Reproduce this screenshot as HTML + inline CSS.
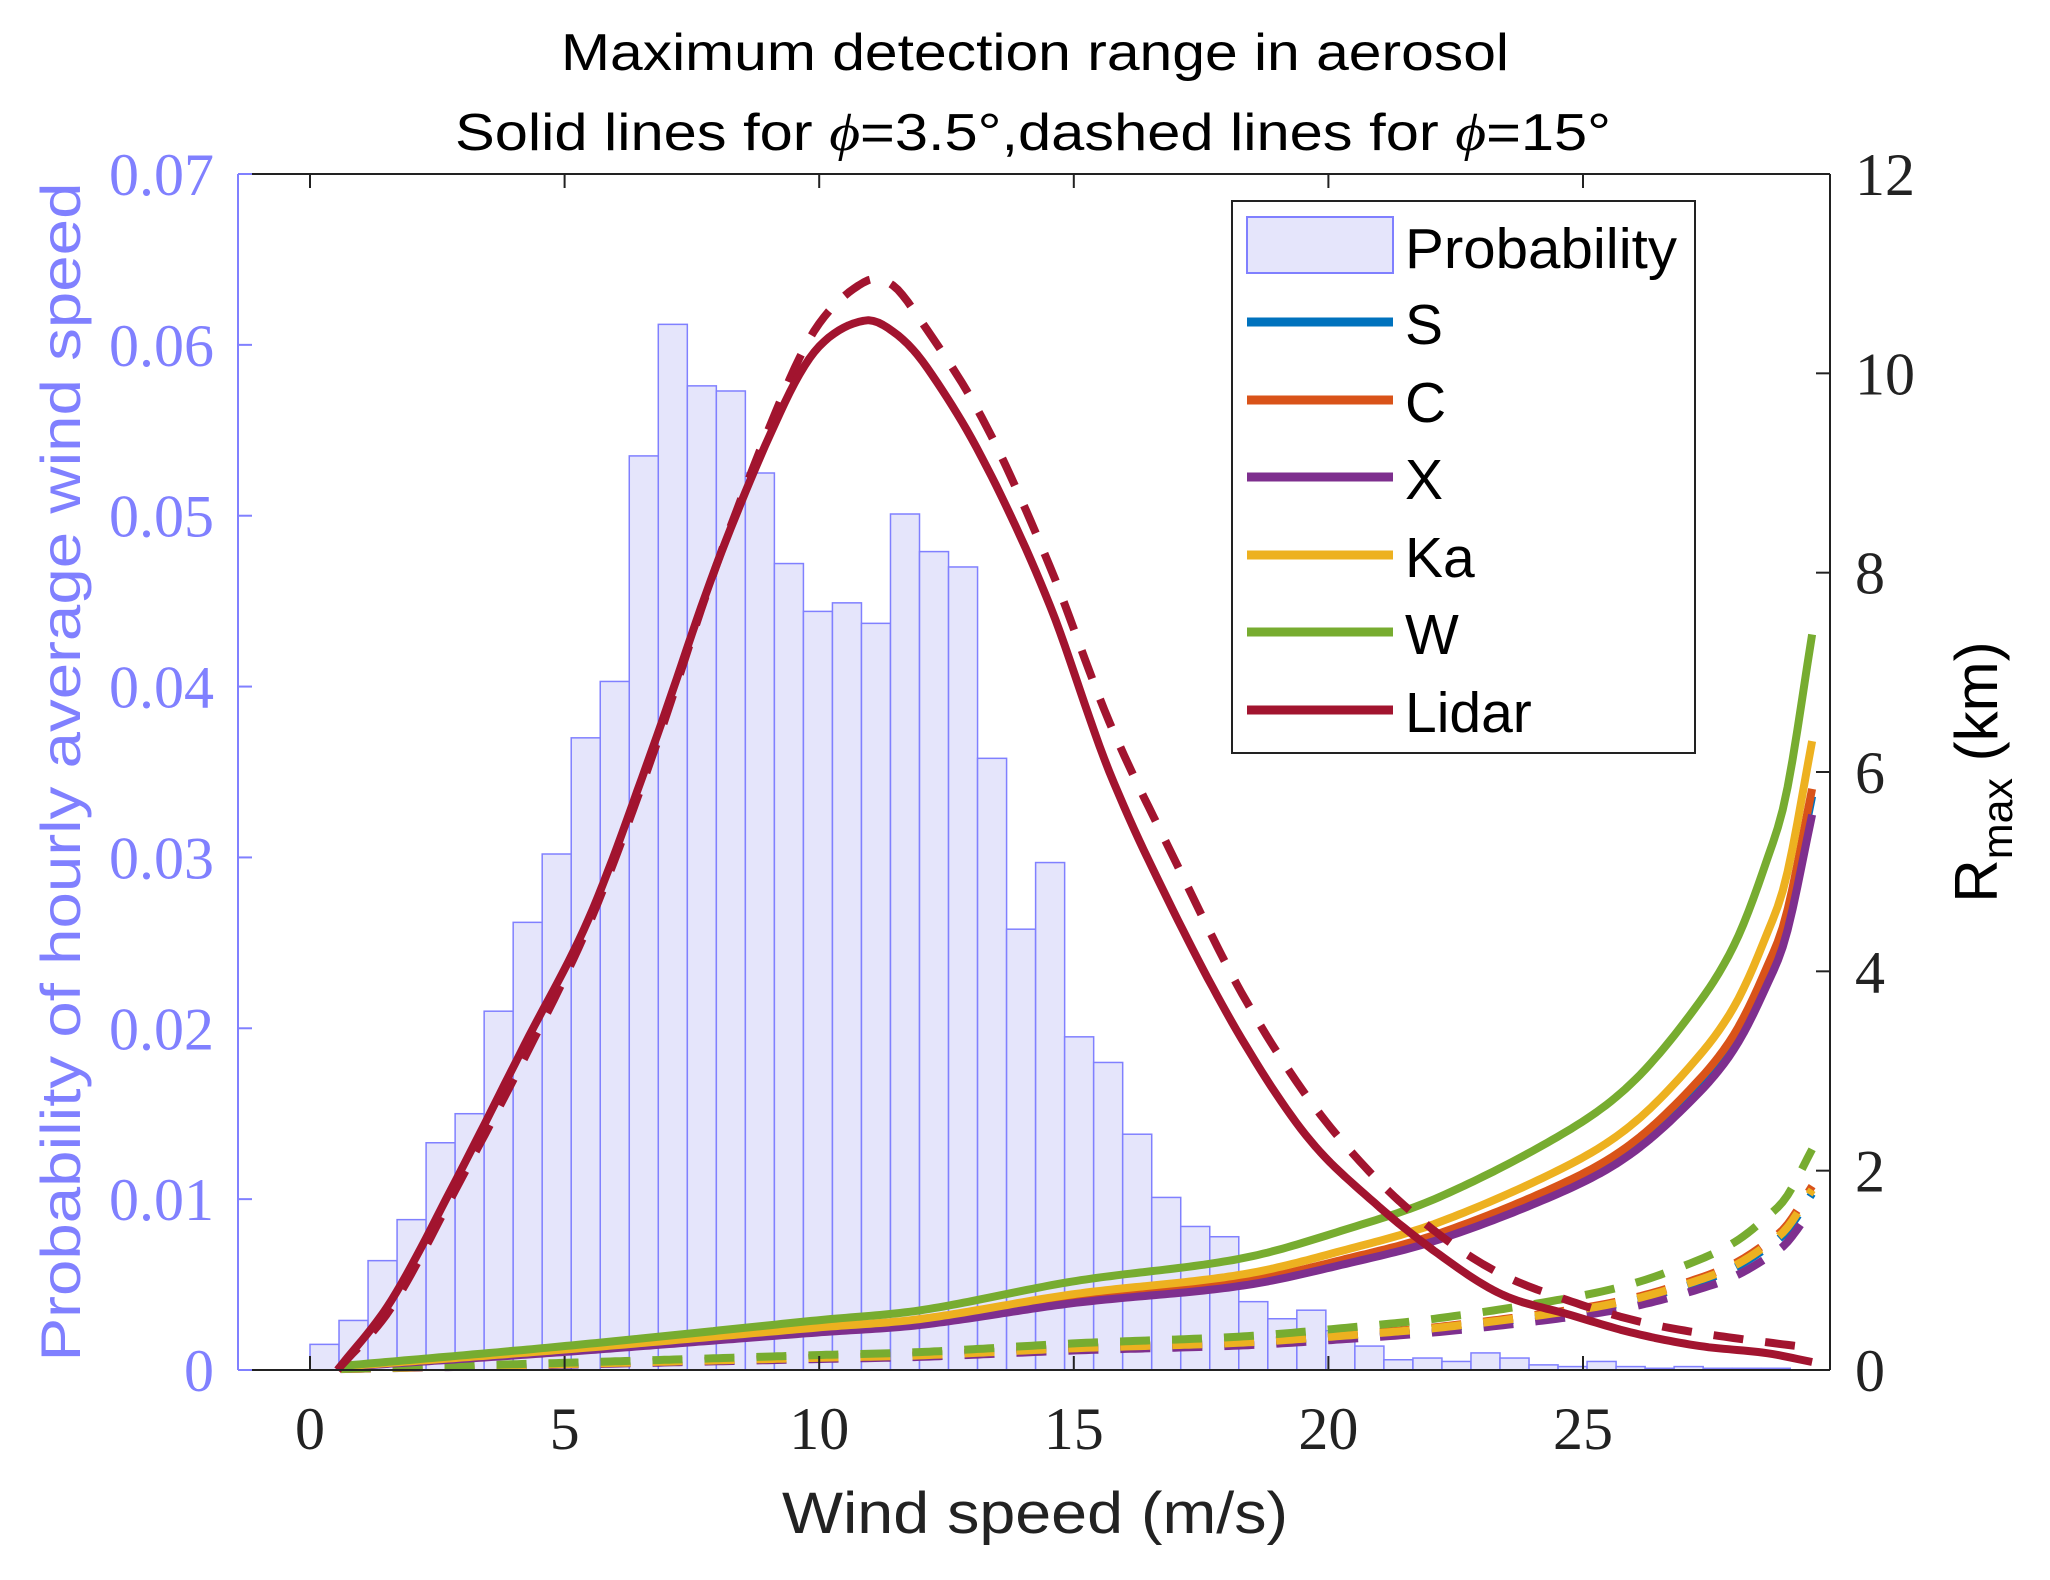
<!DOCTYPE html>
<html><head><meta charset="utf-8">
<style>
html,body{margin:0;padding:0;background:#fff;}
svg{display:block;}
text{font-family:"Liberation Sans",sans-serif;}
.tk{font-family:"Liberation Serif",serif;font-size:60px;}
</style></head>
<body>
<svg id="s" width="2050" height="1580" viewBox="0 0 2050 1580" xmlns="http://www.w3.org/2000/svg">
<rect width="2050" height="1580" fill="#fff"/>
<g id="bars"></g>
<g id="lines" fill="none" stroke-linejoin="round"></g>
<g id="axes"></g>
<!-- Titles -->
<text x="1035" y="70" font-size="52" text-anchor="middle" textLength="948" lengthAdjust="spacingAndGlyphs">Maximum detection range in aerosol</text>
<text x="1033" y="150" font-size="52" text-anchor="middle" textLength="1156" lengthAdjust="spacingAndGlyphs">Solid lines for <tspan font-family="Liberation Serif" font-style="italic">ϕ</tspan>=3.5°,dashed lines for <tspan font-family="Liberation Serif" font-style="italic">ϕ</tspan>=15°</text>
<text x="1035" y="1533" font-size="58" text-anchor="middle" fill="#222" textLength="506" lengthAdjust="spacingAndGlyphs">Wind speed (m/s)</text>
<text transform="translate(80,772) rotate(-90)" font-size="56" text-anchor="middle" fill="#8080ff" textLength="1179" lengthAdjust="spacingAndGlyphs">Probability  of hourly average wind speed</text>
<text transform="translate(1997,772) rotate(-90)" font-size="60" text-anchor="middle">R<tspan font-size="43" dy="15">max</tspan><tspan dy="-15"> (km)</tspan></text>
<!-- Legend -->
<rect x="1232" y="201" width="463" height="552" fill="#fff" stroke="#222" stroke-width="2"/>
<rect x="1247" y="217" width="146" height="56" fill="#e5e5fb" stroke="#8080ff" stroke-width="2"/>
<g stroke-width="9">
<line x1="1247" y1="322" x2="1393" y2="322" stroke="#0072BD"/>
<line x1="1247" y1="400" x2="1393" y2="400" stroke="#D95319"/>
<line x1="1247" y1="477" x2="1393" y2="477" stroke="#7E2F8E"/>
<line x1="1247" y1="555" x2="1393" y2="555" stroke="#EDB120"/>
<line x1="1247" y1="632" x2="1393" y2="632" stroke="#77AC30"/>
<line x1="1247" y1="710" x2="1393" y2="710" stroke="#A2142F"/>
</g>
<g font-size="57">
<text x="1405" y="268" textLength="272" lengthAdjust="spacingAndGlyphs">Probability</text>
<text x="1405" y="344">S</text>
<text x="1405" y="422">C</text>
<text x="1405" y="499">X</text>
<text x="1405" y="577">Ka</text>
<text x="1405" y="654">W</text>
<text x="1405" y="732">Lidar</text>
</g>
</svg>
<script>
var NS="http://www.w3.org/2000/svg";
var X0=310,XS=50.92,Y0=1370,L=238,R=1830,T=174;
function px(x){return X0+x*XS;}
function pyP(p){return Y0-p*1196/0.07;}
function pyK(k){return Y0-k*1196/12;}
function el(par,tag,attrs,txt){var e=document.createElementNS(NS,tag);for(var k in attrs)e.setAttribute(k,attrs[k]);if(txt!==undefined)e.textContent=txt;document.getElementById(par).appendChild(e);return e;}
var h=[0.0015,0.0029,0.0064,0.0088,0.0133,0.015,0.021,0.0262,0.0302,0.037,0.0403,0.0535,0.0612,0.0576,0.0573,0.0525,0.0472,0.0444,0.0449,0.0437,0.0501,0.0479,0.047,0.0358,0.0258,0.0297,0.0195,0.018,0.0138,0.0101,0.0084,0.0078,0.004,0.003,0.0035,0.0023,0.0014,0.0006,0.0007,0.0005,0.001,0.0007,0.0003,0.0002,0.0005,0.0002,0.0001,0.0002,0.0001,0.0001,0.0001];
var bw=0.57;
for(var i=0;i<h.length;i++){var x1=px(i*bw),x2=px((i+1)*bw),y=pyP(h[i]);
el("bars","rect",{x:x1,y:y,width:x2-x1,height:Y0-y,fill:"#e5e5fb",stroke:"#8080ff","stroke-width":1.5});}
// Catmull-Rom interpolation for smoothness
function interp(pts,x){var n=pts.length;for(var i=0;i<n-1;i++){if(x<=pts[i+1][0]){var p0=pts[Math.max(i-1,0)],p1=pts[i],p2=pts[i+1],p3=pts[Math.min(i+2,n-1)];var t=(x-p1[0])/(p2[0]-p1[0]);
var m1=(p2[1]-p0[1])/(p2[0]-p0[0])*(p2[0]-p1[0]),m2=(p3[1]-p1[1])/(p3[0]-p1[0])*(p2[0]-p1[0]);
var t2=t*t,t3=t2*t;return (2*t3-3*t2+1)*p1[1]+(t3-2*t2+t)*m1+(-2*t3+3*t2)*p2[1]+(t3-t2)*m2;}}return pts[n-1][1];}
function path(pts,color,dash,scale){var d="";var n=300,a=pts[0][0],b=pts[pts.length-1][0];
for(var i=0;i<=n;i++){var x=a+(b-a)*i/n;var y=interp(pts,x)*(scale||1);d+=(i?"L":"M")+px(x).toFixed(1)+","+pyK(y).toFixed(1);}
var at={d:d,stroke:color,"stroke-width":8};if(dash)at["stroke-dasharray"]="30,22";el("lines","path",at);}
var W=[[0.6,0.04],[5,0.24],[10,0.5],[12,0.6],[15,0.89],[18.3,1.12],[20.4,1.42],[22.2,1.74],[24.7,2.4],[26,2.9],[27.3,3.7],[28,4.3],[28.6,5.1],[29,5.8],[29.5,7.38]];
var lidS=[[0.54,0],[1.6,0.7],[2.9,1.94],[4.2,3.25],[5.5,4.56],[6.75,6.27],[8.0,8.1],[9.3,9.68],[10,10.27],[10.9,10.53],[11.5,10.4],[12.1,10.07],[13.2,9.15],[14.5,7.71],[15.7,6.0],[17.0,4.56],[18.3,3.32],[19.6,2.33],[20.9,1.68],[22.2,1.15],[23.4,0.76],[24.7,0.56],[26,0.37],[27.3,0.24],[28.6,0.17],[29.5,0.08]];
var lidD=[[0.54,0],[1.6,0.63],[2.9,1.85],[4.2,3.12],[5.5,4.5],[6.75,6.2],[8.0,8.1],[9.3,9.8],[10,10.5],[10.9,10.92],[11.4,10.9],[11.9,10.6],[13.2,9.55],[14.5,8.1],[15.7,6.5],[17.0,5.1],[18.3,3.78],[19.6,2.73],[20.9,1.94],[22.2,1.35],[23.4,0.96],[24.7,0.7],[26,0.5],[27.3,0.37],[29.5,0.22]];
path(W,"#0072BD",true,0.24);path(W,"#D95319",true,0.25);path(W,"#7E2F8E",true,0.22);path(W,"#EDB120",true,0.245);path(W,"#77AC30",true,0.3);
path(W,"#0072BD",false,0.78);path(W,"#D95319",false,0.79);path(W,"#7E2F8E",false,0.755);path(W,"#EDB120",false,0.855);path(W,"#77AC30",false,1);
path(lidD,"#A2142F",true);path(lidS,"#A2142F",false);
el("axes","line",{x1:L,y1:T,x2:L,y2:Y0,stroke:"#8080ff","stroke-width":2});
el("axes","line",{x1:L,y1:Y0,x2:R,y2:Y0,stroke:"#222","stroke-width":2});
el("axes","line",{x1:L,y1:T,x2:R,y2:T,stroke:"#222","stroke-width":2});
el("axes","line",{x1:R,y1:T,x2:R,y2:Y0,stroke:"#222","stroke-width":2});
for(var v=0;v<=25;v+=5){var x=px(v);el("axes","line",{x1:x,y1:Y0,x2:x,y2:Y0-14,stroke:"#222","stroke-width":2});el("axes","line",{x1:x,y1:T,x2:x,y2:T+14,stroke:"#222","stroke-width":2});
el("axes","text",{x:x,y:1449,"text-anchor":"middle","class":"tk",fill:"#222"},String(v));}
for(var i=0;i<=7;i++){var y=pyP(i*0.01);el("axes","line",{x1:L,y1:y,x2:L+14,y2:y,stroke:"#8080ff","stroke-width":2});
el("axes","text",{x:214,y:y+21,"text-anchor":"end","class":"tk",fill:"#8080ff"},i==0?"0":(i*0.01).toFixed(2));}
for(var k=0;k<=12;k+=2){var y=pyK(k);el("axes","line",{x1:R,y1:y,x2:R-14,y2:y,stroke:"#222","stroke-width":2});
el("axes","text",{x:1855,y:y+21,"class":"tk",fill:"#222"},String(k));}
</script>
</body></html>
